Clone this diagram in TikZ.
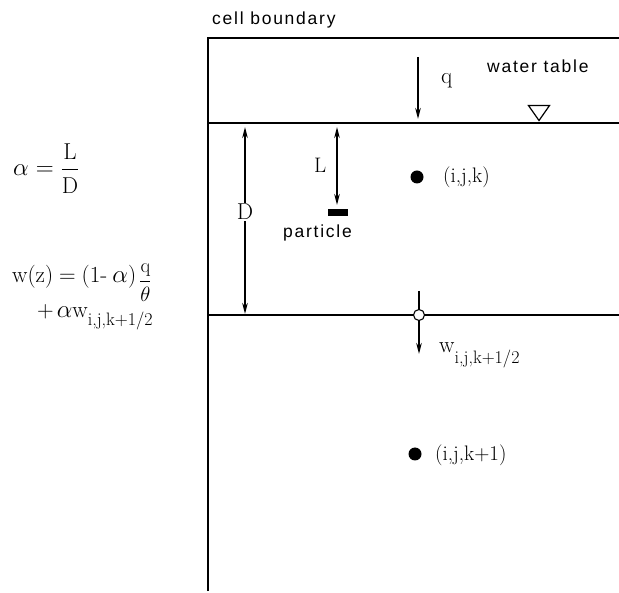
\documentclass[tikz,border=0pt]{standalone}
\usepackage{amsmath}
\usepackage{fontspec}
\newfontfamily\hel[LetterSpace=10]{Liberation Sans}
\usetikzlibrary{arrows.meta,shapes.geometric}
\newcommand\wsubs[2]{w\raisebox{-#2}{\fontsize{18}{20}\selectfont #1}}
\begin{document}
\begin{tikzpicture}[x=1pt,y=-1pt,
  bound/.style={line width=1.1pt},
  tip/.tip={Stealth[length=11pt,width=5.5pt]},
  arr/.style={line width=1.6pt,-tip},
  darr/.style={line width=1.6pt,tip-tip},
  sans/.style={font=\hel\fontsize{17.5}{20}\selectfont,inner sep=0pt,anchor=base west},
  lab/.style={font=\fontsize{21}{24}\selectfont,inner sep=0pt,anchor=base west},
  eq/.style={font=\fontsize{23}{26}\selectfont,inner sep=0pt,anchor=base west},
  dot/.style={circle,fill=black,inner sep=0pt,minimum size=13pt},
  odot/.style={circle,draw=black,fill=white,line width=1.1pt,inner sep=0pt,minimum size=11pt}]
\useasboundingbox (0,0) rectangle (619,593);
% boundaries
\coordinate (tl) at (208,38);
\coordinate (tr) at (619,38);
\coordinate (bl) at (208,591);
\coordinate (wl) at (208,123);
\coordinate (wr) at (619,123);
\coordinate (ll) at (208,315);
\coordinate (lr) at (619,315);
\draw[bound] (bl) -- (tl) -- (tr);
\draw[bound] (wl) -- (wr);
\draw[bound] (ll) -- (lr);
\node[sans] (cb) at (212,25) {cell boundary};
% q arrow
\coordinate (q1) at (418,57);
\coordinate (q2) at (418,119);
\draw[arr] (q1) -- (q2);
\node[eq] (q) at (441,84) {q};
\node[sans] (wt) at (487,73) {water table};
\node[draw,isosceles triangle,shape border rotate=-90,isosceles triangle apex angle=70,inner sep=0pt,minimum height=15pt,minimum width=18pt,line width=1.2pt] (tri) at (539,111) {};
% D arrow
\coordinate (d1) at (245,127);
\coordinate (d2) at (245,314);
\node[font=\fontsize{23}{26}\selectfont,fill=white,inner sep=1pt] (D) at (245,212) {D};
\draw[line width=1.6pt,tip-] (d1) -- (D.north);
\draw[line width=1.6pt,-tip] (D.south) -- (d2);
% L arrow
\coordinate (l1) at (337,127);
\coordinate (l2) at (337,205);
\draw[darr] (l1) -- (l2);
\node[lab] (L) at (314,173) {L};
\node[fill=black,minimum width=20pt,minimum height=7pt,inner sep=0pt] (part) at (338,213) {};
\node[sans] (pt) at (283,238) {particle};
% cell centres
\node[dot] (c1) at (417,177) {};
\node[lab] (c1l) at (443,183) {(i,j,k)};
\node[dot] (c2) at (415,454) {};
\node[lab] (c2l) at (435,461) {(i,j,k+1)};
% w arrow
\coordinate (w1) at (419,291);
\coordinate (w2) at (419,354);
\draw[arr] (w1) -- (w2);
\node[odot] (face) at (419,315) {};
\node[eq] (wl) at (439,353) {\wsubs{i,j,k+1/2}{11pt}};
% equations
\node[eq] (alpha) at (13,176) {$\alpha=\dfrac{\mathrm{L}}{\mathrm{D}}$};
\node[eq] (wz) at (12,283) {w(z)\hspace{6pt}=\hspace{6pt}(1-\hspace{5pt}$\alpha$)\hspace{3pt}\raisebox{-4pt}{\fontsize{20}{22}\selectfont$\dfrac{\mathrm{q}}{\theta}$}};
\node[eq] (wz2) at (37,318) {+\hspace{3pt}$\alpha$\wsubs{i,j,k+1/2}{8pt}};
\end{tikzpicture}
\end{document}
